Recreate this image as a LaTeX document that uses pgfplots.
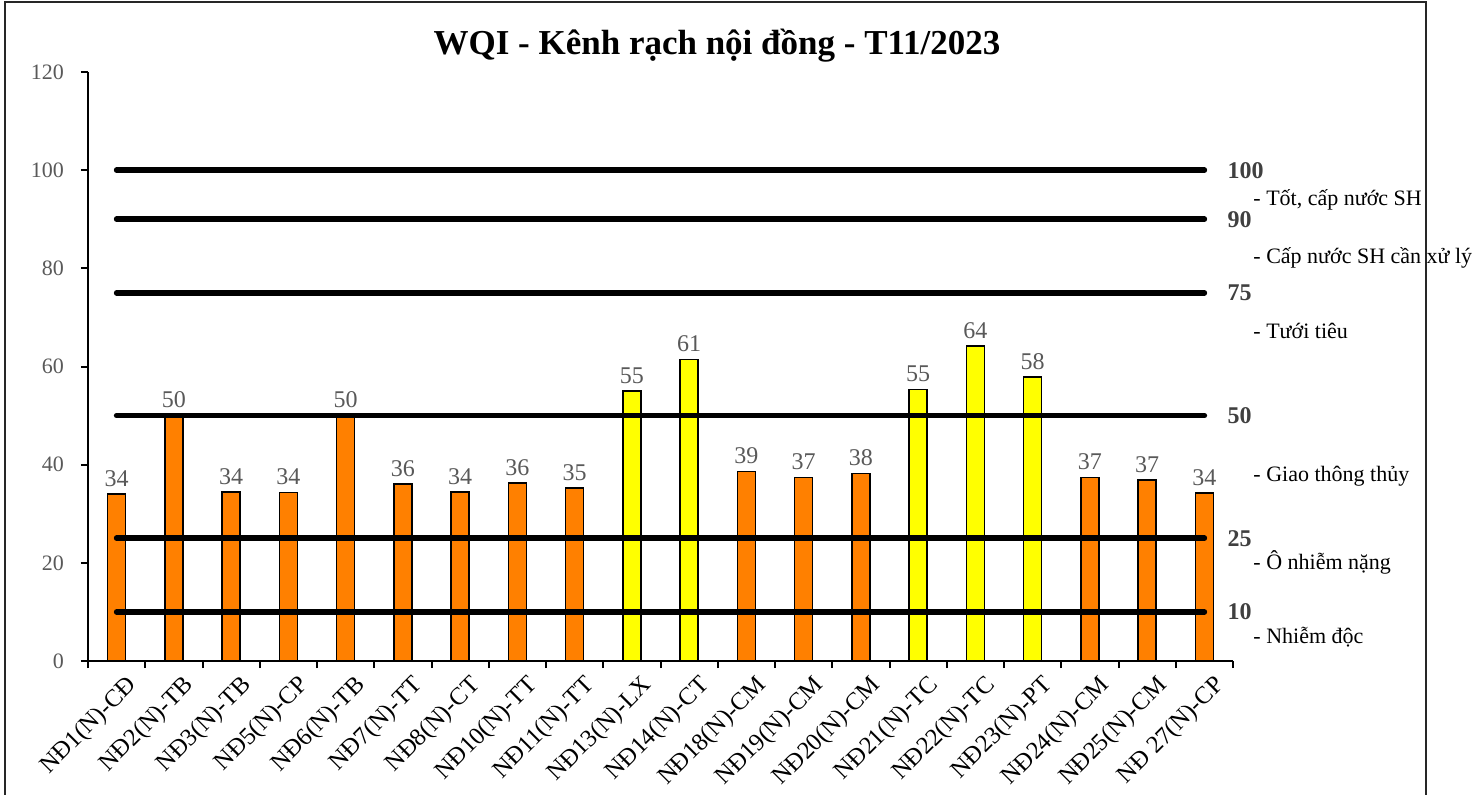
\documentclass[border=0pt]{standalone}
\usepackage{fontspec}
\setmainfont{Liberation Serif}
\usepackage{pgfplots}
\pgfplotsset{compat=1.18}
\definecolor{barorange}{HTML}{FF8000}
\definecolor{baryellow}{HTML}{FFFF00}
\definecolor{tickgrey}{HTML}{595959}
\definecolor{labgrey}{HTML}{404040}
\pgfkeys{/pgf/number format/assume math mode=true}
\begin{document}
\begin{tikzpicture}
\useasboundingbox (0,0) rectangle (736.5pt,397pt);
\draw[line width=1pt, black!85] (2.5pt,-2pt) -- (2.5pt,396pt) -- (713pt,396pt) -- (713pt,-2pt);
\node[font=\fontsize{17.5}{20}\selectfont\bfseries] at (358.5pt,374pt) {WQI - Kênh rạch nội đồng - T11/2023};
\begin{axis}[at={(44pt,66.5pt)}, anchor=south west, scale only axis,
 width=572.5pt, height=294.5pt,
 xmin=-0.5, xmax=19.5, ymin=0, ymax=120,
 axis x line*=bottom, axis y line*=left,
 axis line style={line width=1pt, -},
 ytick={0,20,...,120},
 xtick={0,...,19},
 xticklabels={NĐ1(N)-CĐ,NĐ2(N)-TB,NĐ3(N)-TB,NĐ5(N)-CP,NĐ6(N)-TB,NĐ7(N)-TT,NĐ8(N)-CT,NĐ10(N)-TT,NĐ11(N)-TT,NĐ13(N)-LX,NĐ14(N)-CT,NĐ18(N)-CM,NĐ19(N)-CM,NĐ20(N)-CM,NĐ21(N)-TC,NĐ22(N)-TC,NĐ23(N)-PT,NĐ24(N)-CM,NĐ25(N)-CM,NĐ 27(N)-CP},
 minor xtick={-0.5,0.5,...,19.5},
 tick align=outside, major tick length=3.5pt, minor tick length=3.5pt,
 major x tick style={draw=none},
 tick style={black, line width=1pt},
 y tick label style={font=\fontsize{11}{13}\selectfont, text=tickgrey, xshift=-5pt},
 x tick label style={font=\fontsize{12.3}{14}\selectfont, rotate=45, anchor=north east, inner sep=1pt, xshift=2pt, yshift=-4pt},
 clip=false,
]
\addplot[ybar, bar width=9pt, fill=barorange, draw=black, line width=0.8pt,
  nodes near coords, point meta=y,
  /pgf/number format/fixed, /pgf/number format/precision=0,
  every node near coord/.append style={font=\fontsize{12}{14}\selectfont, text=tickgrey}]
 coordinates {(0,34.0) (1,50.0) (2,34.4) (3,34.3) (4,50.0) (5,36.1) (6,34.4) (7,36.3) (8,35.3) (11,38.6) (12,37.4) (13,38.2) (17,37.4) (18,36.9) (19,34.2)};
\addplot[ybar, bar width=9pt, fill=baryellow, draw=black, line width=0.8pt,
  nodes near coords, point meta=y,
  /pgf/number format/fixed, /pgf/number format/precision=0,
  every node near coord/.append style={font=\fontsize{12}{14}\selectfont, text=tickgrey}]
 coordinates {(9,55.0) (10,61.4) (14,55.3) (15,64.2) (16,57.9)};
\addplot[black, line width=2.8pt, line cap=round] coordinates {(0,100) (19,100)};
\addplot[black, line width=2.8pt, line cap=round] coordinates {(0,90) (19,90)};
\addplot[black, line width=2.8pt, line cap=round] coordinates {(0,75) (19,75)};
\addplot[black, line width=2.8pt, line cap=round] coordinates {(0,50) (19,50)};
\addplot[black, line width=2.8pt, line cap=round] coordinates {(0,25) (19,25)};
\addplot[black, line width=2.8pt, line cap=round] coordinates {(0,10) (19,10)};
\node[anchor=west, inner sep=0pt, font=\fontsize{12}{14}\selectfont\bfseries, text=labgrey] at (axis cs:19.4,100) {100};
\node[anchor=west, inner sep=0pt, font=\fontsize{12}{14}\selectfont\bfseries, text=labgrey] at (axis cs:19.4,90) {90};
\node[anchor=west, inner sep=0pt, font=\fontsize{12}{14}\selectfont\bfseries, text=labgrey] at (axis cs:19.4,75) {75};
\node[anchor=west, inner sep=0pt, font=\fontsize{12}{14}\selectfont\bfseries, text=labgrey] at (axis cs:19.4,50) {50};
\node[anchor=west, inner sep=0pt, font=\fontsize{12}{14}\selectfont\bfseries, text=labgrey] at (axis cs:19.4,25) {25};
\node[anchor=west, inner sep=0pt, font=\fontsize{12}{14}\selectfont\bfseries, text=labgrey] at (axis cs:19.4,10) {10};
\node[anchor=west, inner sep=0pt, font=\fontsize{11}{13}\selectfont] at (axis cs:19.85,93.9) {- Tốt, cấp nước SH};
\node[anchor=west, inner sep=0pt, font=\fontsize{11}{13}\selectfont] at (axis cs:19.85,82.1) {- Cấp nước SH cần xử lý};
\node[anchor=west, inner sep=0pt, font=\fontsize{11}{13}\selectfont] at (axis cs:19.85,67.2) {- Tưới tiêu};
\node[anchor=west, inner sep=0pt, font=\fontsize{11}{13}\selectfont] at (axis cs:19.85,37.7) {- Giao thông thủy};
\node[anchor=west, inner sep=0pt, font=\fontsize{11}{13}\selectfont] at (axis cs:19.85,20.0) {- Ô nhiễm nặng};
\node[anchor=west, inner sep=0pt, font=\fontsize{11}{13}\selectfont] at (axis cs:19.85,4.9) {- Nhiễm độc};
\end{axis}
\end{tikzpicture}
\end{document}
